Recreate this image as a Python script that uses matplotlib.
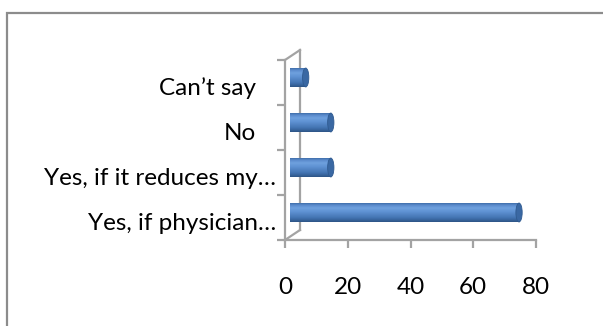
import matplotlib
matplotlib.use("Agg")
import matplotlib.pyplot as plt
import numpy as np
from matplotlib.transforms import ScaledTranslation
from matplotlib.patches import Ellipse, Rectangle
from matplotlib.colors import LinearSegmentedColormap
from matplotlib.lines import Line2D

# ---- data ----
categories = ["Yes, if physician\u2026", "Yes, if it reduces my\u2026", "No", "Can\u2019t say"]
values = [73, 13, 13, 5]
xticks = [0, 20, 40, 60, 80]

plt.rcParams['font.family'] = ['Lato', 'DejaVu Sans']

W, H = 603, 326
fig = plt.figure(figsize=(W / 100, H / 100), dpi=100)

# outer chart frame (only left/top visible in the reference crop)
fig.add_artist(Rectangle((7 / W, -0.1), 1.2, (1 - 13 / H) + 0.1, transform=fig.transFigure,
                         fill=False, edgecolor='#8c8c8c', linewidth=1.6))

ax = fig.add_axes([285 / W, 1 - 240 / H, 251 / W, 180 / H])
ax.set_xlim(0, 80)
ax.set_ylim(-0.5, len(categories) - 0.5)

axis_col = '#a3a3a3'
for s in ['top', 'right']:
    ax.spines[s].set_visible(False)
for s in ['left', 'bottom']:
    ax.spines[s].set_color(axis_col)
    ax.spines[s].set_linewidth(1.6)

ax.set_xticks(xticks)
ax.set_xticklabels([str(t) for t in xticks])
ax.set_yticks(np.arange(len(categories) + 1) - 0.5)
ax.set_yticklabels([])
ax.tick_params(axis='both', color=axis_col, width=1.6, length=6, direction='out')
ax.tick_params(axis='x', labelsize=17.5, pad=21, labelcolor='black')

# 3D back wall (decoration)
dx, dy = 15 / 251, 10 / 180
wall_kw = dict(transform=ax.transAxes, color=axis_col, linewidth=1.6, clip_on=False)
ax.add_line(Line2D([dx, dx], [dy, 1 + dy], **wall_kw))
ax.add_line(Line2D([0, dx], [1, 1 + dy], **wall_kw))
ax.add_line(Line2D([0, dx], [0, dy], **wall_kw))

# bars with a cylinder-like gradient, drawn at mid depth
off = ScaledTranslation(5 / 100, 5 / 100, fig.dpi_scale_trans)
trans = ax.transData + off
bh = 0.42
cyl = LinearSegmentedColormap.from_list('cyl', [
    (0.0, '#2d5587'), (0.22, '#4374b2'), (0.55, '#5f92d3'), (0.75, '#6fa1df'),
    (0.9, '#5a8acb'), (1.0, '#416fab')])
ypos = np.arange(len(categories))
bars = ax.barh(ypos, values, height=bh, color='#4f81bd', transform=trans, zorder=3)
grad = np.linspace(0, 1, 64).reshape(-1, 1)
for b, v, y in zip(bars, values, ypos):
    im = ax.imshow(grad, extent=[0, v, y - bh / 2, y + bh / 2], origin='lower',
                   aspect='auto', cmap=cyl, transform=trans, zorder=4)
    im.set_clip_path(b)
    cap = Ellipse((v, y), 2.0, bh, transform=trans, facecolor='#3a68a3',
                  edgecolor='#2f5a90', linewidth=0.6, zorder=5)
    ax.add_patch(cap)
ax.set_xlim(0, 80)
ax.set_ylim(-0.5, len(categories) - 0.5)

# category labels
for y, lab in zip(ypos, categories):
    pad_px = 9 if lab.endswith('\u2026') else 29
    t = ax.get_yaxis_transform() + ScaledTranslation(-pad_px / 100, -6 / 100, fig.dpi_scale_trans)
    ax.text(0, y, lab, transform=t, ha='right', va='center', fontsize=17.5, color='black')

fig.savefig('out.png', dpi=100)
